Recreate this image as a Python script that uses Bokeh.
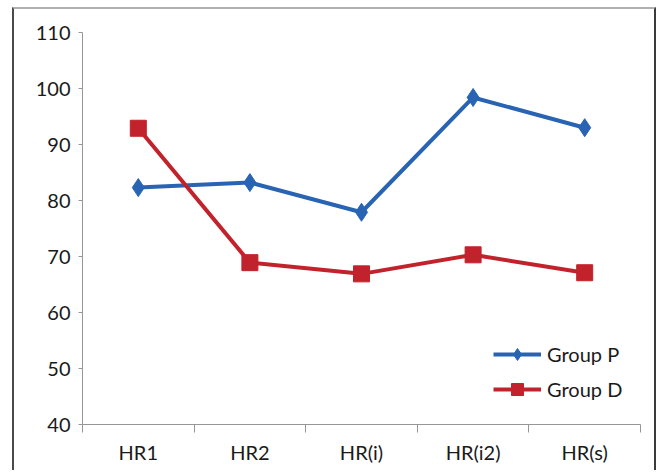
from bokeh.plotting import figure
from bokeh.models import Range1d, FixedTicker, ColumnDataSource
from bokeh.embed import file_html
from bokeh.resources import INLINE

categories = ["HR1", "HR2", "HR(i)", "HR(i2)", "HR(s)"]
group_p = [82.3, 83.2, 77.9, 98.4, 93.0]
group_d = [92.9, 68.9, 66.9, 70.3, 67.1]
y_ticks = [40, 50, 60, 70, 80, 90, 100, 110]

xs = [i + 0.5 for i in range(len(categories))]
src = ColumnDataSource(dict(x=xs, p=group_p, d=group_d))

FONT = "Lato"
BLUE = "#2864B3"
RED = "#C2222B"
AXIS = "#969696"
TEXT = "#1a1a1a"

p = figure(width=644, height=463,
           min_border_left=68, min_border_right=18, min_border_top=23, min_border_bottom=48,
           x_range=Range1d(0, len(categories)), y_range=Range1d(40, 110),
           output_backend="svg", toolbar_location=None)
p.outline_line_color = None
p.xgrid.grid_line_color = None
p.ygrid.grid_line_color = None
p.styles = {"margin-left": "12px", "margin-top": "7px",
            "border-top": "2px solid #b0b0b0",
            "border-left": "2px solid #4a4a4a",
            "border-right": "2px solid #3a3a3a"}

p.line("x", "p", source=src, color=BLUE, line_width=4, legend_label="Group P")
p.scatter("x", "p", source=src, marker="diamond", size=18, color=BLUE, legend_label="Group P")
p.line("x", "d", source=src, color=RED, line_width=4, legend_label="Group D")
p.scatter("x", "d", source=src, marker="square", size=16, color=RED, legend_label="Group D")

# y axis
ya = p.yaxis[0]
ya.ticker = FixedTicker(ticks=y_ticks, minor_ticks=[])
ya.axis_line_color = AXIS
ya.major_tick_line_color = AXIS
ya.major_tick_out = 4
ya.major_tick_in = 0
ya.minor_tick_line_color = None
ya.major_label_standoff = 8
ya.major_label_text_font = FONT
ya.major_label_text_font_size = "20px"
ya.major_label_text_color = TEXT

# x axis: ticks between categories, labels centred
xa = p.xaxis[0]
xa.ticker = FixedTicker(ticks=xs, minor_ticks=list(range(len(categories) + 1)))
xa.major_label_overrides = {x: c for x, c in zip(xs, categories)}
xa.axis_line_color = AXIS
xa.major_tick_line_color = None
xa.major_tick_out = 0
xa.major_tick_in = 0
xa.minor_tick_line_color = AXIS
xa.minor_tick_out = 8
xa.minor_tick_in = 0
xa.major_label_standoff = 7
xa.major_label_text_font = FONT
xa.major_label_text_font_size = "20px"
xa.major_label_text_color = TEXT

# legend
lg = p.legend[0]
lg.location = (411, 20)
lg.padding = 0
lg.margin = 0
lg.spacing = 5
lg.glyph_width = 48
lg.glyph_height = 30
lg.label_height = 30
lg.label_standoff = 6
lg.border_line_color = None
lg.background_fill_alpha = 0
lg.label_text_font = FONT
lg.label_text_font_size = "20px"
lg.label_text_color = TEXT

open("out.html", "w").write(file_html(p, INLINE))
